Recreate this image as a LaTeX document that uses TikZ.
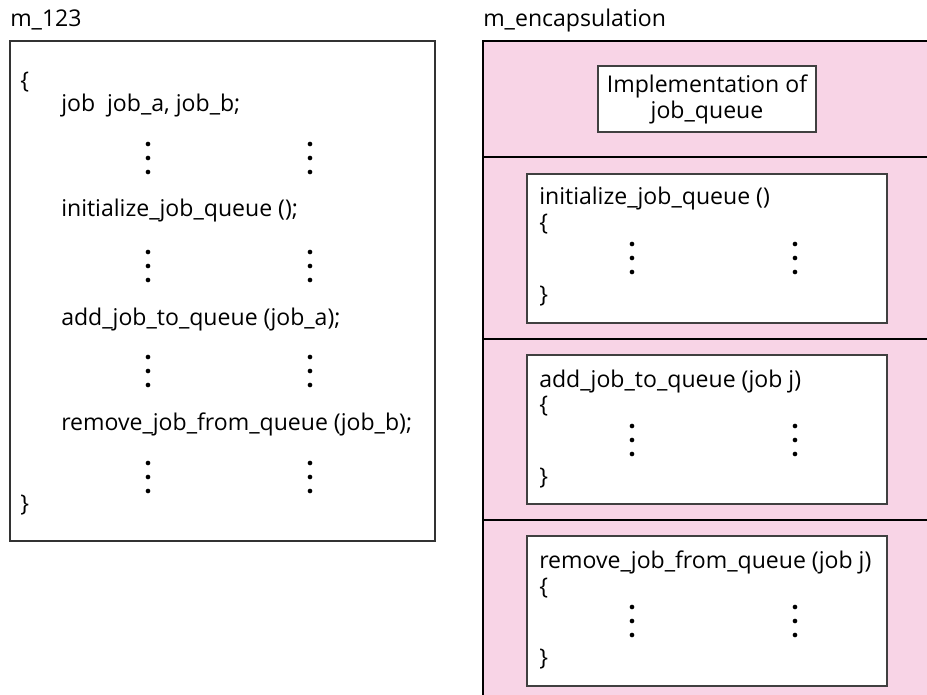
\documentclass[tikz,border=0pt]{standalone}
\usepackage{fontspec}
\setmainfont{Open Sans}
\usepackage{tikz}
\usetikzlibrary{positioning}
\definecolor{modpink}{RGB}{248,212,230}

\begin{document}
\begin{tikzpicture}[x=0.75pt,y=-0.75pt]
      \tikzset{code line/.style={anchor=base west,
          inner sep=0pt,
          font=\fontsize{17.3}{19.5}\selectfont},
        code dot/.style={inner sep=0pt,
          outer sep=0pt,
          minimum size=3.5pt,
          fill=black,
          circle},
        fn box/.style={draw=black!75,
          line width=1.1pt,
          fill=white}
      }
      \useasboundingbox (0,0) rectangle (927,695);
      % module using the queue
      \node [code line] (T1) at (10,27) {m\_123};
      \draw [line width=0.9pt, black!80] (10,41) rectangle (435,541);
      \node [code line] (L0) at (20,89) {\{};
      \node [code line] (L1) at (61,112) {job\ \ job\_a, job\_b;};
      \node [code line] (L2) at (61,217) {initialize\_job\_queue ();};
      \node [code line] (L3) at (61,325) {add\_job\_to\_queue (job\_a);};
      \node [code line] (L4) at (61,430) {remove\_job\_from\_queue (job\_b);};
      \node [code line] (L5) at (20,511) {\}};
      % encapsulation module
      \node [code line] (T2) at (483,27) {m\_encapsulation};
      \fill [modpink] (483,41) rectangle (927,695);
      \draw [line width=0.9pt] (927,41) -- (483,41) -- (483,695);
      \draw [line width=0.9pt] (483,157) -- (927,157);
      \draw [line width=0.9pt] (483,339) -- (927,339);
      \draw [line width=0.9pt] (483,520) -- (927,520);
      \node [fn box, minimum width=163.5pt, minimum height=49.5pt,
        align=center, inner sep=0pt,
        font=\fontsize{17.3}{19.5}\selectfont] (Q) at (707,99)
        {Implementation of\\job\_queue};
      \draw [fn box] (527,174) rectangle (887,323);
      \draw [fn box] (527,355) rectangle (887,504);
      \draw [fn box] (527,536) rectangle (887,686);
      \node [code line] (I0) at (539,205) {initialize\_job\_queue ()};
      \node [code line] (I1) at (539,230) {\{};
      \node [code line] (I2) at (539,302) {\}};
      \node [code line] (A0) at (539,387) {add\_job\_to\_queue (job j)};
      \node [code line] (A1) at (539,412) {\{};
      \node [code line] (A2) at (539,484) {\}};
      \node [code line] (R0) at (539,568) {remove\_job\_from\_queue (job j)};
      \node [code line] (R1) at (539,594) {\{};
      \node [code line] (R2) at (539,665) {\}};
      % elided code
      \foreach \x/\y in {148/144,310/144,148/252,310/252,148/357,310/357,
          148/463,310/463,632/244,795/244,632/426,795/426,632/607,795/607}
        \foreach \d in {0,14,28}
          \node [code dot] at (\x,\y+\d) {};
    \end{tikzpicture}
\end{document}
